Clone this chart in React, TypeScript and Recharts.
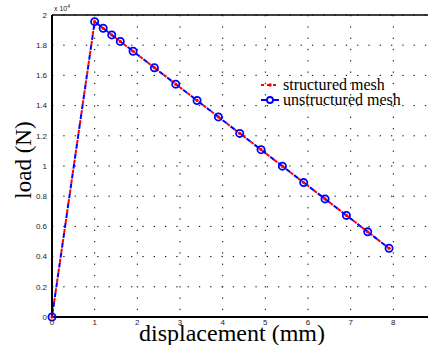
import React from 'react';
import { LineChart, Line, XAxis, YAxis, CartesianGrid, Label, ReferenceLine } from 'recharts';

const structuredDisp = [0, 1, 1.2, 1.4, 1.6, 1.9, 2.4, 2.9, 3.4, 3.9, 4.4, 4.9, 5.4, 5.9, 6.4, 6.9, 7.4, 7.9];
const structuredLoad = [0, 19560, 19120, 18680, 18250, 17600, 16510, 15420, 14340, 13250, 12160, 11080, 9990, 8900, 7820, 6730, 5640, 4550];
const unstructuredDisp = [0, 1, 1.2, 1.4, 1.6, 1.9, 2.4, 2.9, 3.4, 3.9, 4.4, 4.9, 5.4, 5.9, 6.4, 6.9, 7.4, 7.9];
const unstructuredLoad = [0, 19560, 19120, 18680, 18250, 17600, 16510, 15420, 14340, 13250, 12160, 11080, 9990, 8900, 7820, 6730, 5640, 4550];

const xTicks = [0, 1, 2, 3, 4, 5, 6, 7, 8];
const yTicks = [0, 2000, 4000, 6000, 8000, 10000, 12000, 14000, 16000, 18000, 20000];
const seriesNames = ['structured mesh', 'unstructured mesh'];
const xLabel = 'displacement (mm)';
const yLabel = 'load (N)';
const multiplier = '4';

const structured = structuredDisp.map((d, i) => ({ d, load: structuredLoad[i] }));
const unstructured = unstructuredDisp.map((d, i) => ({ d, load: unstructuredLoad[i] }));

const serif = '"Liberation Serif", "DejaVu Serif", serif';
const sans = '"Liberation Sans", Arial, sans-serif';

const LegendBox = () => (
  <div style={{ position: 'absolute', left: 252, top: 77, fontFamily: serif, fontSize: 16, color: '#000', lineHeight: '15px', whiteSpace: 'nowrap' }}>
    <div style={{ display: 'flex', alignItems: 'center', height: 15 }}>
      <svg width={30} height={15}>
        <line x1={9} y1={8} x2={27} y2={8} stroke="#ff0000" strokeWidth={2} strokeDasharray="3 3" />
        <circle cx={18} cy={8} r={1.8} fill="#ff0000" />
      </svg>
      <span style={{ marginLeft: 1 }}>{seriesNames[0]}</span>
    </div>
    <div style={{ display: 'flex', alignItems: 'center', height: 15 }}>
      <svg width={30} height={15}>
        <line x1={9} y1={8} x2={27} y2={8} stroke="#0000ff" strokeWidth={2} />
        <circle cx={18} cy={8} r={3} fill="#fff" stroke="#0000ff" strokeWidth={1.8} />
      </svg>
      <span style={{ marginLeft: 1 }}>{seriesNames[1]}</span>
    </div>
  </div>
);

export default function App() {
  return (
    <div style={{ position: 'absolute', left: 0, top: 0, width: 428, height: 345, overflow: 'hidden', background: '#fff' }}>
      <LineChart width={440} height={345} margin={{ top: 15, right: 4, bottom: 0, left: 0 }}>
        <CartesianGrid stroke="#000" strokeDasharray="1.3 10" strokeWidth={1} verticalValues={[0, 1, 2, 3, 4, 5, 6, 7, 8, 9]} />
        <XAxis
          type="number"
          dataKey="d"
          domain={[0, 9]}
          ticks={xTicks}
          height={28}
          tickSize={0}
          tickMargin={2}
          tick={{ fontSize: 8, fontFamily: sans, fill: '#222' }}
          axisLine={{ stroke: '#000', strokeWidth: 2 }}
          allowDuplicatedCategory={false}
        >
          <Label
            content={() => (
              <text x={232} y={341} textAnchor="middle" fontFamily={serif} fontSize={24} fill="#000">
                {xLabel}
              </text>
            )}
          />
        </XAxis>
        <YAxis
          type="number"
          dataKey="load"
          domain={[0, 20000]}
          ticks={yTicks}
          width={52}
          tickSize={0}
          tickMargin={5}
          tickFormatter={(v: number) => String(+(v / 10000).toFixed(1))}
          tick={{ fontSize: 8, fontFamily: sans, fill: '#222' }}
          axisLine={{ stroke: '#000', strokeWidth: 2 }}
        >
          <Label
            content={() => (
              <g>
                <text x={23} y={160} transform="rotate(-90 23 160)" textAnchor="middle" dominantBaseline="central" fontFamily={serif} fontSize={23} fill="#000">
                  {yLabel}
                </text>
                <text x={54} y={11} fontFamily={sans} fontSize={7} fill="#222">
                  x 10
                  <tspan dy={-3} fontSize={5}>{multiplier}</tspan>
                </text>
              </g>
            )}
          />
        </YAxis>
        <ReferenceLine y={20000} stroke="#000" strokeWidth={1.5} />
        <Line
          data={unstructured}
          dataKey="load"
          name={seriesNames[1]}
          stroke="#0000ff"
          strokeWidth={2}
          strokeDasharray="5 5"
          dot={{ r: 3.6, stroke: '#0000ff', strokeWidth: 1.8, fill: 'none', strokeDasharray: '0' }}
          isAnimationActive={false}
        />
        <Line
          data={structured}
          dataKey="load"
          name={seriesNames[0]}
          stroke="#ff0000"
          strokeWidth={2}
          strokeDasharray="4 6"
          strokeDashoffset={-5}
          dot={{ r: 1.6, stroke: 'none', fill: '#ff0000', strokeDasharray: '0' }}
          isAnimationActive={false}
        />
      </LineChart>
      <LegendBox />
    </div>
  );
}
